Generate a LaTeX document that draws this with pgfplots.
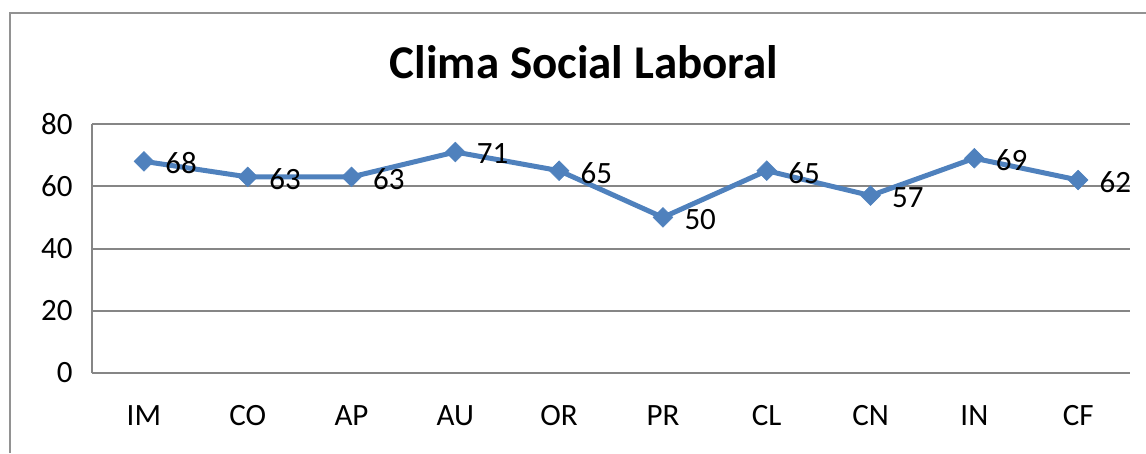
\documentclass[border=0pt]{standalone}
\usepackage{pgfplots}
\pgfplotsset{compat=1.18}
\usepackage{fontspec}
\setmainfont{Carlito}
\definecolor{xlblue}{HTML}{4F81BD}
\definecolor{gridgray}{HTML}{868686}

\begin{document}
\begin{tikzpicture}[x=1pt,y=1pt]
\path[use as bounding box] (0,0) rectangle (1146,453);
\draw[gridgray!90, line width=2pt] (10,0) -- (10,440) -- (1146,440);
\node[font=\fontsize{47}{52}\selectfont\bfseries] at (584,391) {Clima Social Laboral};
\begin{axis}[
    at={(92pt,80pt)}, anchor=south west,
    scale only axis, width=1038pt, height=249pt,
    xmin=-0.5, xmax=9.5, ymin=0, ymax=80,
    ytick={0,20,...,80},
    xtick={0,...,9},
    xticklabels={IM,CO,AP,AU,OR,PR,CL,CN,IN,CF},
    axis x line*=bottom, axis y line*=left,
    axis line style={gridgray, line width=2pt},
    ymajorgrids, grid style={gridgray, line width=2pt},
    major tick length=0pt,
    tick label style={font=\fontsize{31}{36}\selectfont},
    yticklabel style={xshift=-16pt},
    xticklabel style={yshift=-29pt},
    /pgf/number format/assume math mode=true,
    clip=false,
    nodes near coords,
    every node near coord/.append style={anchor=west, xshift=18pt, yshift=-2pt,
        font=\fontsize{31}{36}\selectfont, text=black},
]
\addplot[xlblue, line width=5pt, mark=square*, mark size=7pt,
    mark options={line width=0.5pt, fill=xlblue, rotate=45}] coordinates {
    (0,68) (1,63) (2,63) (3,71) (4,65) (5,50) (6,65) (7,57) (8,69) (9,62)
};
\end{axis}
\end{tikzpicture}
\end{document}
